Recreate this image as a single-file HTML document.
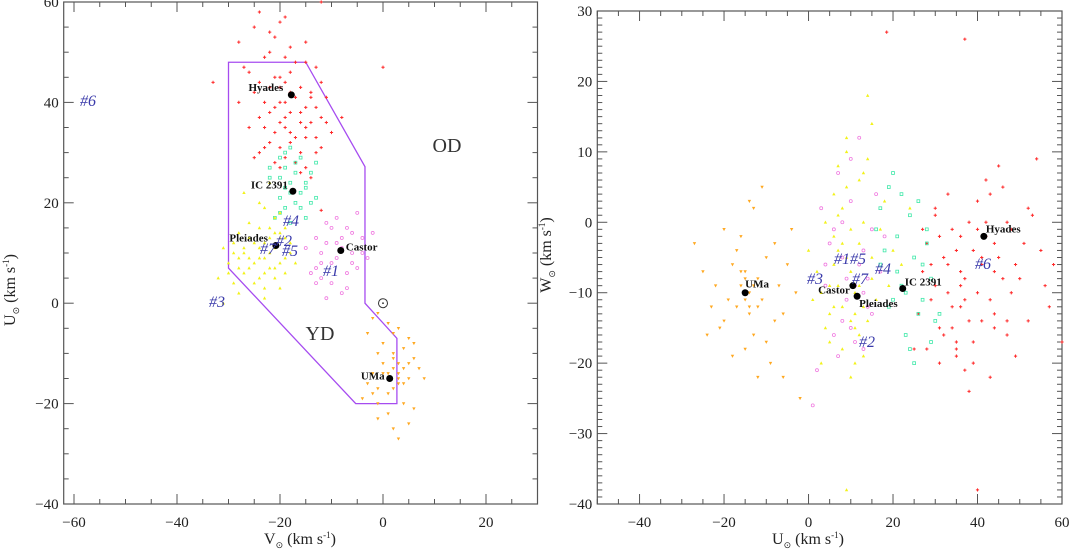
<!DOCTYPE html>
<html><head><meta charset="utf-8"><style>
html,body{margin:0;padding:0;background:#fff;}
svg{display:block;font-family:"Liberation Serif",serif;}
</style></head><body>
<svg id="chart" width="1071" height="550" viewBox="0 0 1071 550"></svg>
<script>
// star data: [U, V, W]
const hyades=[[42,-18,-2],[45,-20,-5],[38,-16,0],[50,-22,-8],[36,-14,-12],[40,-19,3],[48,-17,-10],[33,-15,-6],[31,-20,-15],[55,-25,-4],[52,-15,2],[35,-23,-18],[44,-12,-7],[39,-21,-20],[28,-17,-3],[30,-13,-9],[46,-26,5],[57,-19,-12],[34,-18,-1],[41,-14,-14],[37,-24,-8],[43,-16,-22],[29,-19,-11],[53,-21,1],[47,-13,-16],[32,-22,-5],[36,-11,-2],[26,-16,-13],[49,-23,-19],[38,-18,-24],[42,-25,6],[35,-15,-17],[45,-21,8],[31,-12,-20],[40,-28,-10],[27,-20,-7],[58,-24,-6],[33,-17,4],[44,-19,-13],[39,-13,-4],[47,-27,0],[25,-14,-18],[36,-20,-9],[51,-18,-3],[30,-24,2],[43,-22,-11],[34,-10,-15],[41,-17,-6],[48,-15,-1],[37,-19,-21],[18.5,-12,27],[37,-8,26],[54,-22,9],[40,-20,-38],[60,-12,-17],[47,0,-14],[44,-33,-3],[56,-20,-9],[52,-28,-14],[29,-25,-6],
[35,-19,-4],[33,-13,-10],[38,-22,-14],[32,-18,-16],[36,-16,-7],[40,-23,-1],[34,-21,-12],[30,-16,1],[39,-15,-17],[43,-20,4],[46,-18,-8],[28,-21,-18],[37,-12,-11],[31,-23,-2],[41,-11,-5],[44,-24,-15],[49,-19,-6],[27,-15,-1],[35,-26,-19],[42,-14,0]];
const ic2391=[[22,-18,-9],[25,-20,-5],[19,-16,-12],[28,-17,-3],[30,-19,-14],[17,-21,2],[24,-15,-18],[21,-13,-7],[27,-22,-11],[16,-18,-1],[26,-14,3],[23,-19,-16],[29,-16,-8],[18,-20,-4],[31,-18,-13],[20,-17,7],[25,-22,-20],[28,-13,-1],[23,-15,-10],[19,-19,5],
[21,-20,-2],[26,-17,-13],[17,-15,-6],[24,-18,1],[29,-20,-17],[20,-14,-11],[27,-19,-6],[22,-16,4]];
const castor=[[11,-8,-9],[8,-10,-5],[14,-6,-12],[5,-12,-3],[17,-9,-7],[10,-4,-15],[3,-7,2],[13,-13,-10],[7,-5,-19],[16,-11,4],[9,-3,-8],[12,-9,12],[6,-14,-1],[15,-7,-13],[4,-10,-6],[18,-5,-2],[2,-8,-21],[10,-12,9],[13,-4,-4],[8,-6,-14],[1,-11,-26],[7,-13,7],[14,-2,-8],[11,-15,-17],
[9,-9,-11],[12,-11,-6],[6,-7,-16],[15,-10,-1],[10,-6,3],[4,-13,-9],[13,-8,-18],[8,-12,0]];
const pleiades=[[11,-21,-10],[9,-24,-5],[13,-19,-12],[6,-27,-2],[15,-22,-8],[4,-25,-15],[18,-20,3],[8,-30,-18],[12,-23,6],[2,-28,-7],[16,-26,-11],[10,-18,-14],[7,-22,1],[20,-24,-4],[5,-32,-9],[14,-28,9],[3,-20,-20],[17,-21,-1],[9,-26,12],[12,-29,-16],[1,-23,-11],[22,-27,-6],[6,-19,4],[11,-31,-13],[8,-17,-3],[15,-24,14],[13,-26,-19],[4,-29,0],[19,-23,-9],[7,-21,8],[10,-27,-22],[0,-31,-4],[24,-22,2],[14,-20,18],[5,-24,-13],[9,-28,-38],
[10,-22,-7],[12,-25,-3],[8,-20,-12],[7,-26,-9],[13,-22,0],[9,-19,5],[11,-27,-15],[6,-23,-6],[14,-21,-14],[8,-25,2],[10,-29,-1],[12,-18,-9],[5,-21,-17],[9,-23,10],[11,-24,-20],[7,-28,-4],[13,-20,7],[3,-23,-10],[15,-19,-5],[6,-30,-12]];
const uma=[[-14,1,-10],[-12,3,-8],[-17,-1,-12],[-10,2,-5],[-20,4,-14],[-8,0,-3],[-15,5,-18],[-18,-2,-6],[-11,6,-11],[-22,1,-9],[-6,-3,-13],[-16,3,-2],[-13,7,-16],[-25,2,-7],[-9,4,-20],[-19,-4,-11],[-4,1,-1],[-14,-2,3],[-21,6,-15],[-12,0,-22],[-7,5,-9],[-17,2,-4],[-23,-1,-12],[-10,-1,-17],[-15,8,-8],[-5,3,-6],[-27,3,-3],[-13,4,2],[-18,1,-19],[-8,6,-14],[-3,-2,-10],[-16,-3,-7],[-11,2,5],[-20,-1,-1],[-24,5,-16],[-14,3,-12],[-2,-1,-25],[-6,2,-22],
[-13,2,-9],[-15,3,-11],[-14,0,-13],[-16,4,-9],[-12,5,-12],[-15,1,-7]];
// cluster centres [name, U, V, W]
const centres=[["Hyades",41.5,-17.8,-2],["IC 2391",22.3,-17.5,-9.4],["Pleiades",11.5,-20.8,-10.5],["Castor",10.5,-8.2,-9],["UMa",-15,1.3,-10]];
// hull polygon [V, U]
const hull=[[-30,48],[-15,48],[-3.5,27.2],[-3.5,0],[2.7,-7],[2.7,-20],[-5.3,-20],[-30,7]];
const leftXTicks=[-60,-40,-20,0,20];
const leftYTicks=[-40,-20,0,20,40,60];
const rightXTicks=[-40,-20,0,20,40,60];
const rightYTicks=[-40,-30,-20,-10,0,10,20,30];

const NS="http://www.w3.org/2000/svg";
const svg=document.getElementById('chart');
function mk(tag,attrs,parent){const e=document.createElementNS(NS,tag);for(const k in attrs)e.setAttribute(k,attrs[k]);(parent||svg).appendChild(e);return e;}
const L={x0:63.7,x1:537.5,y0:504,y1:2,dx:[-62,30],dy:[-40,60]};
const R={x0:597.3,x1:1062,y0:504,y1:11,dx:[-50,60],dy:[-40,30]};
function sx(P,v){return P.x0+(v-P.dx[0])/(P.dx[1]-P.dx[0])*(P.x1-P.x0);}
function sy(P,v){return P.y0-(v-P.dy[0])/(P.dy[1]-P.dy[0])*(P.y0-P.y1);}

function frame(P,xt,yt,xminor,yminor,name){
  const g=mk('g',{});
  
  
  mk('rect',{x:P.x0,y:P.y1,width:P.x1-P.x0,height:P.y0-P.y1,fill:'none',stroke:'#555','stroke-width':1.2},g);
  for(let v=Math.ceil(P.dx[0]/xminor)*xminor;v<=P.dx[1];v+=xminor){
    const x=sx(P,v);const maj=Math.abs(v%(xt[1]-xt[0]))<1e-6;const l=maj?10:5;
    mk('line',{x1:x,x2:x,y1:P.y0,y2:P.y0-l,stroke:'#555'},g);
    mk('line',{x1:x,x2:x,y1:P.y1,y2:P.y1+l,stroke:'#555'},g);
  }
  for(let v=Math.ceil(P.dy[0]/yminor)*yminor;v<=P.dy[1];v+=yminor){
    const y=sy(P,v);const maj=Math.abs(v%(yt[1]-yt[0]))<1e-6;const l=maj?10:5;
    mk('line',{x1:P.x0,x2:P.x0+l,y1:y,y2:y,stroke:'#555'},g);
    mk('line',{x1:P.x1,x2:P.x1-l,y1:y,y2:y,stroke:'#555'},g);
  }
  xt.forEach(v=>{const t=mk('text',{x:sx(P,v),y:527,'font-size':15,'text-anchor':'middle',fill:'#222'},g);t.textContent=(v<0?'\u2212'+(-v):v);
    
    });
  yt.forEach(v=>{const t=mk('text',{x:P.x0-5,y:sy(P,v)+5,'font-size':15,'text-anchor':'end',fill:'#222'},g);t.textContent=(v<0?'\u2212'+(-v):v);
    
    });
}
frame(L,leftXTicks,leftYTicks,5,5,'left');
frame(R,rightXTicks,rightYTicks,5,1,'right');

function title(x,y,sym,rot,name){
  const t=mk('text',{x:x,y:y,'font-size':16,'text-anchor':'middle',fill:'#222',transform:rot?`rotate(-90 ${x} ${y})`:''});
  
  
  t.innerHTML=sym+'<tspan font-size="9" dy="4">\u2299</tspan><tspan dy="-4"> (km s</tspan><tspan font-size="9" dy="-6">-1</tspan><tspan dy="6">)</tspan>';
}
title(300,544,'V',false,'x-axis-title-left');
title(808,544,'U',false,'x-axis-title-right');
title(15,290,'U',true,'y-axis-title-left');
title(551,255,'W',true,'y-axis-title-right');

const pg=mk('polygon',{points:hull.map(p=>sx(L,p[0])+','+sy(L,p[1])).join(' '),fill:'none',stroke:'#a64cf0','stroke-width':1.3});



function marker(type,x,y,col,g){
  if(type==='plus'){mk('path',{d:`M${x-1.6} ${y}h3.2M${x} ${y-1.6}v3.2`,stroke:col,'stroke-width':1},g);}
  else if(type==='tri'){mk('path',{d:`M${x} ${y-1.8}L${x+1.7} ${y+1.3}L${x-1.7} ${y+1.3}Z`,fill:col},g);}
  else if(type==='tridown'){mk('path',{d:`M${x} ${y+1.8}L${x+1.7} ${y-1.3}L${x-1.7} ${y-1.3}Z`,fill:col},g);}
  else if(type==='sq'){mk('rect',{x:x-1.4,y:y-1.4,width:2.8,height:2.8,fill:'none',stroke:col,'stroke-width':0.8},g);}
  else {mk('circle',{cx:x,cy:y,r:1.5,fill:'none',stroke:col,'stroke-width':0.8},g);}
}
const groups=[[hyades,'plus','#ff2a2a','hyades-stars'],[ic2391,'sq','#3de8a8','ic2391-stars'],[castor,'circ','#f07ae0','castor-stars'],[pleiades,'tri','#f2f21a','pleiades-stars'],[uma,'tridown','#ffa820','uma-stars']];
groups.forEach(([arr,type,col,name])=>{
  const g1=mk('g',{});
  
  
  const g2=mk('g',{});
  
  
  arr.forEach(s=>{marker(type,sx(L,s[1]),sy(L,s[0]),col,g1);marker(type,sx(R,s[0]),sy(R,s[2]),col,g2);});
});

const leftOff={"Hyades":[-8,-8,'end'],"IC 2391":[-5,-7,'end'],"Pleiades":[-8,-8,'end'],"Castor":[5,-4,'start'],"UMa":[-5,-3,'end']};
const rightOff={"Hyades":[2,-4,'start'],"IC 2391":[2,-3,'start'],"Pleiades":[2,11,'start'],"Castor":[-3,8,'end'],"UMa":[0,-5,'start']};
centres.forEach(c=>{
  const [n,U,V,W]=c;
  let x=sx(L,V),y=sy(L,U);
  const d1=mk('circle',{cx:x,cy:y,r:3.5,fill:'#000'});
  
  
  let o=leftOff[n];
  const t1=mk('text',{x:x+o[0],y:y+o[1]+4,'font-size':11,'font-weight':'bold','text-anchor':o[2],fill:'#111'});t1.textContent=n;
  
  
  x=sx(R,U);y=sy(R,W);
  const d2=mk('circle',{cx:x,cy:y,r:3.5,fill:'#000'});
  
  
  o=rightOff[n];
  const t2=mk('text',{x:x+o[0],y:y+o[1],'font-size':11,'font-weight':'bold','text-anchor':o[2],fill:'#111'});t2.textContent=n;
  
  
});

const nums=[["#6",88,106],["#4",291,226],["#2",284,246],["#7",268,254],["#5",290,256],["#1",331,276],["#3",217,307],
["#3",815,284],["#1#5",850,264],["#7",860,284],["#4",883,274],["#2",867,347],["#6",983,269]];
nums.forEach(n=>{const t=mk('text',{x:n[1],y:n[2],'font-size':16,'font-style':'italic','text-anchor':'middle',fill:'#3a3aaa'});t.textContent=n[0];
  
  });

const od=mk('text',{x:447,y:152,'font-size':20,'text-anchor':'middle',fill:'#333'});od.textContent='OD';


const yd=mk('text',{x:320,y:340,'font-size':20,'text-anchor':'middle',fill:'#333'});yd.textContent='YD';


const sun=mk('g',{});


mk('circle',{cx:sx(L,0),cy:sy(L,0),r:4.5,fill:'none',stroke:'#333','stroke-width':1},sun);
mk('circle',{cx:sx(L,0),cy:sy(L,0),r:0.9,fill:'#333'},sun);
</script>
</body></html>
